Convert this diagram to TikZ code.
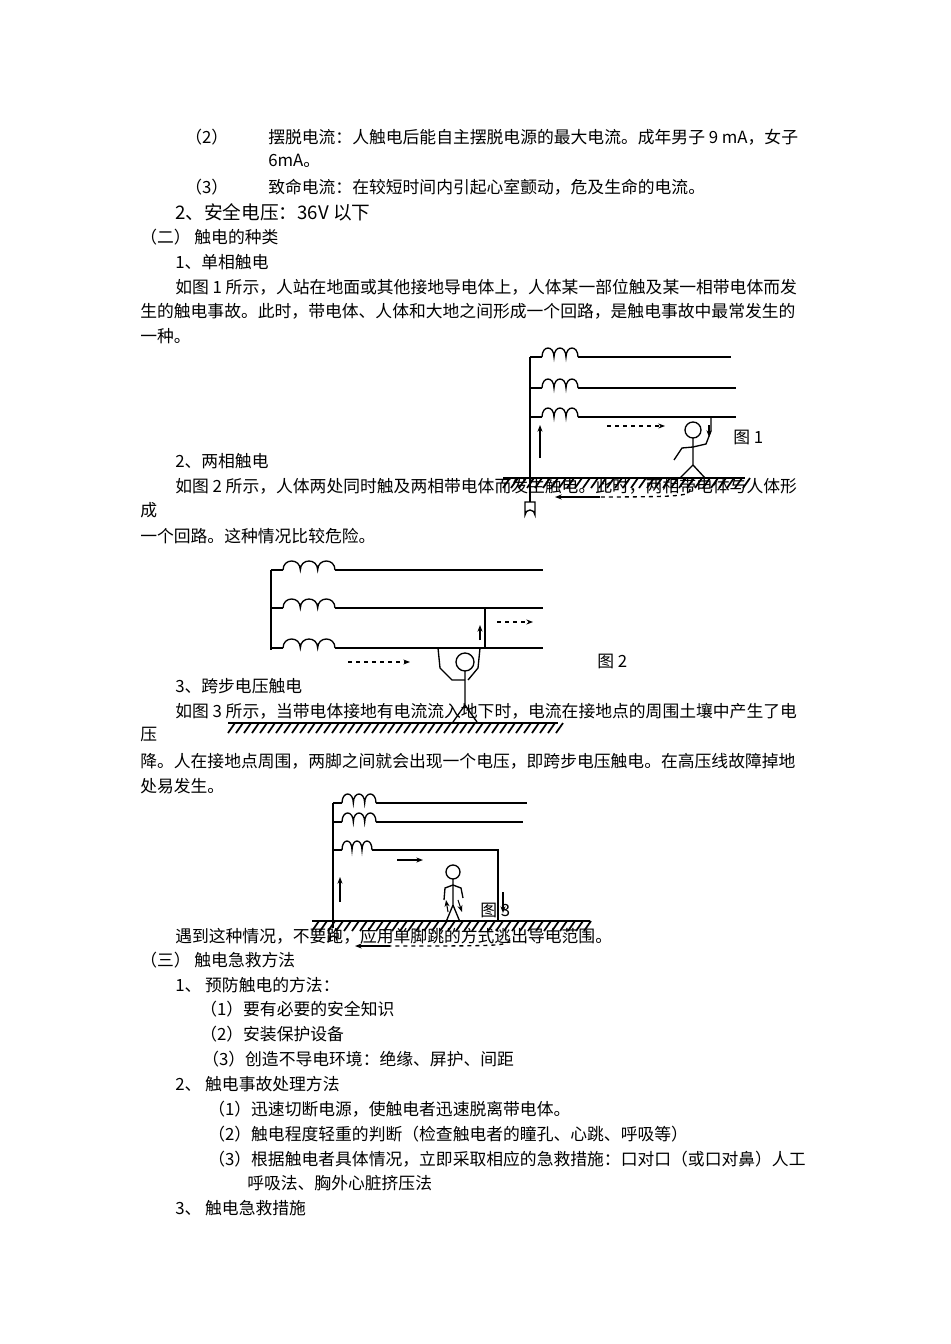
\documentclass[tikz,border=0pt]{standalone}
\usepackage{fontspec}
\setmainfont{Noto Sans CJK SC}
\usetikzlibrary{arrows.meta}
\begin{document}
\begin{tikzpicture}[x=0.75pt,y=-0.75pt,
  t/.style={anchor=west,inner sep=0pt,font=\fontsize{12.6}{14}\selectfont},
  wire/.style={line width=1pt},
  arr/.style={-{Stealth[length=5pt]},line width=0.8pt}]
\useasboundingbox (0,0) rectangle (950,1344);
\newcommand{\coil}[3]{\draw[wire] (#1,#2) \foreach \i in {0,1,2} { .. controls ({#1+\i*#3/3},{#2-12}) and ({#1+(\i+1)*#3/3},{#2-12}) .. ({#1+(\i+1)*#3/3},#2) };}
\newcommand{\ground}[3]{\draw[wire] (#1,#2) -- (#3,#2);
  \foreach \x in {#1,\the\numexpr#1+8\relax,...,#3} {\draw[line width=1.3pt] (\x,#2+10) -- (\x+7,#2);}}
% text
\node[t] (a1) at (185,137) {（2）};
\node[t] (a2) at (268,137) {摆脱电流：人触电后能自主摆脱电源的最大电流。成年男子 9 mA，女子};
\node[t] (a3) at (268,161) {6mA。};
\node[t] (b1) at (185,187) {（3）};
\node[t] (b2) at (268,187) {致命电流：在较短时间内引起心室颤动，危及生命的电流。};
\node[t,font=\fontsize{14}{16}\selectfont] (c) at (175,212) {2、安全电压：36V 以下};
\node[t] (d) at (140,237) {（二） 触电的种类};
\node[t] (e) at (175,262) {1、单相触电};
\node[t] (f1) at (175,287) {如图 1 所示，人站在地面或其他接地导电体上，人体某一部位触及某一相带电体而发};
\node[t] (f2) at (140,311) {生的触电事故。此时，带电体、人体和大地之间形成一个回路，是触电事故中最常发生的};
\node[t] (f3) at (140,336) {一种。};
\node[t] (g) at (175,461) {2、两相触电};
\node[t] (h1) at (175,486) {如图 2 所示，人体两处同时触及两相带电体而发生触电。此时，两相带电体与人体形};
\node[t] (h2) at (140,510) {成};
\node[t] (h3) at (140,536) {一个回路。这种情况比较危险。};
\node[t] (i) at (175,686) {3、跨步电压触电};
\node[t] (j1) at (175,711) {如图 3 所示，当带电体接地有电流流入地下时，电流在接地点的周围土壤中产生了电};
\node[t] (j2) at (140,735) {压};
\node[t] (j3) at (140,761) {降。人在接地点周围，两脚之间就会出现一个电压，即跨步电压触电。在高压线故障掉地};
\node[t] (j4) at (140,786) {处易发生。};
\node[t] (k) at (175,936) {遇到这种情况，不要跑，应用单脚跳的方式逃出导电范围。};
\node[t] (l) at (140,960) {（三） 触电急救方法};
\node[t] (m) at (175,985) {1、 预防触电的方法：};
\node[t] (m1) at (200,1009) {（1）要有必要的安全知识};
\node[t] (m2) at (200,1034) {（2）安装保护设备};
\node[t] (m3) at (202,1059) {（3）创造不导电环境：绝缘、屏护、间距};
\node[t] (n) at (175,1084) {2、 触电事故处理方法};
\node[t] (n1) at (208,1109) {（1）迅速切断电源，使触电者迅速脱离带电体。};
\node[t] (n2) at (208,1134) {（2）触电程度轻重的判断（检查触电者的瞳孔、心跳、呼吸等）};
\node[t] (n3) at (208,1159) {（3）根据触电者具体情况，立即采取相应的急救措施：口对口（或口对鼻）人工};
\node[t] (n4) at (247,1183) {呼吸法、胸外心脏挤压法};
\node[t] (o) at (175,1208) {3、 触电急救措施};
% ---------- Figure 1
\draw[wire] (530,357) -- (530,502);
\draw[wire] (530,357) -- (542,357); \coil{542}{357}{36} \draw[wire] (578,357) -- (731,357);
\draw[wire] (530,388) -- (542,388); \coil{542}{388}{36} \draw[wire] (578,388) -- (736,388);
\draw[wire] (530,417) -- (542,417); \coil{542}{417}{36} \draw[wire] (578,417) -- (736,417);
\draw[wire] (525,502) -- (525,515) arc[start angle=180,end angle=360,radius=5] -- (535,502) -- cycle;
\draw[arr] (540,458) -- (540,425);
\draw[arr,dashed] (607,426) -- (665,426);
\draw[wire] (693,430) circle (8);
\draw[wire] (693,438) -- (693,465) -- (680,478); \draw[wire] (693,465) -- (705,478);
\draw[wire] (693,447) -- (682,448) -- (674,460);
\draw[wire] (693,447) -- (706,444) -- (711,431) -- (711,417);
\draw[arr] (709,425) -- (709,437);
\ground{503}{478}{745}
\draw[wire,dashed] (690,489) .. controls (690,497) and (680,497) .. (560,497);
\draw[arr] (600,497) -- (555,497);
\node[t] (fig1) at (733,437) {图 1};
% ---------- Figure 2
\draw[wire] (271,570) -- (271,650);
\foreach \yy in {570,608,648} {\draw[wire] (271,\yy) -- (283,\yy); \coil{283}{\yy}{52} \draw[wire] (335,\yy) -- (543,\yy);}
\draw[wire] (485,608) -- (485,648);
\draw[arr] (480,640) -- (480,625);
\draw[arr,dashed] (497,622) -- (533,622);
\draw[arr,dashed] (348,662) -- (410,662);
\draw[wire] (438,648) -- (440,668) -- (452,680) -- (465,680);
\draw[wire] (480,648) -- (478,668) -- (468,680);
\draw[wire] (465,662) circle (9);
\draw[wire] (465,671) -- (465,705) -- (453,722); \draw[wire] (465,705) -- (477,722);
\ground{228}{723}{558}
\node[t] (fig2) at (597,661) {图 2};
% ---------- Figure 3
\draw[wire] (333,803) -- (333,928);
\draw[wire] (333,803) -- (342,803); \coil{342}{803}{34} \draw[wire] (376,803) -- (527,803);
\draw[wire] (333,822) -- (342,822); \coil{342}{822}{34} \draw[wire] (376,822) -- (523,822);
\draw[wire] (333,850) -- (342,850); \coil{342}{850}{30} \draw[wire] (372,850) -- (498,850) -- (498,920);
\draw[wire] (329,928) -- (329,940) arc[start angle=180,end angle=360,radius=4] -- (337,928);
\draw[arr] (340,902) -- (340,877);
\draw[arr] (397,860) -- (423,860);
\draw[arr] (503,892) -- (503,913);
\draw[wire] (453,872) circle (7);
\draw[wire] (453,879) -- (453,905) -- (446,922); \draw[wire] (453,905) -- (460,922);
\draw[wire] (453,885) -- (445,888) -- (444,900); \draw[wire] (453,885) -- (461,888) -- (463,898);
\draw[arr] (448,912) -- (446,900); \draw[arr] (458,900) -- (462,912);
\ground{312}{921}{590}
\draw[wire,dashed] (510,940) .. controls (505,946) .. (380,946);
\draw[arr] (390,946) -- (355,946);
\node[t] (fig3) at (480,910) {图 3};
\end{tikzpicture}
\end{document}
